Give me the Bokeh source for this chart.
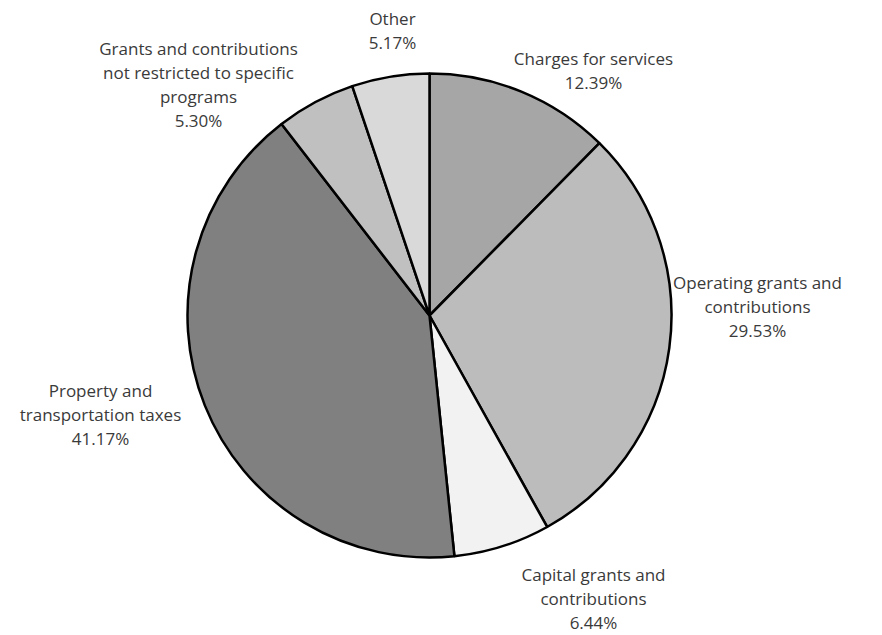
import math
from bokeh.plotting import figure
from bokeh.models import Range1d, ColumnDataSource
from bokeh.core.properties import value
from bokeh.embed import file_html
from bokeh.resources import INLINE

categories = [
    "Charges for services",
    "Operating grants and\ncontributions",
    "Capital grants and\ncontributions",
    "Property and\ntransportation taxes",
    "Grants and contributions\nnot restricted to specific\nprograms",
    "Other",
]
shares = [12.39, 29.53, 6.44, 41.17, 5.30, 5.17]
colors = ["#a6a6a6", "#bcbcbc", "#f2f2f2", "#808080", "#c0c0c0", "#d9d9d9"]

# label anchor centres (layout), in screen px from top-left
label_pos = [(593, 70), (757, 306), (593, 598), (100, 414), (198, 84), (392, 30)]

W, H = 882, 635
cx, cy, r = 429, H - 315, 242

p = figure(width=W, height=H, output_backend="svg", toolbar_location=None,
           x_range=Range1d(0, W), y_range=Range1d(0, H), min_border=0)
p.axis.visible = False
p.grid.visible = False
p.outline_line_color = None
p.background_fill_color = "white"

total = sum(shares)
starts, ends = [], []
cum = 0.0
for s in shares:
    starts.append(math.pi / 2 - cum / total * 2 * math.pi)
    cum += s
    ends.append(math.pi / 2 - cum / total * 2 * math.pi)

src = ColumnDataSource(dict(start=starts, end=ends, color=colors))
p.wedge(x=cx, y=cy, radius=r, start_angle="start", end_angle="end",
        direction="clock", fill_color="color", line_color="black",
        line_width=2.5, source=src)

texts = [f"{c}\n{s:.2f}%" for c, s in zip(categories, shares)]
lx = [pp[0] for pp in label_pos]
ly = [H - pp[1] for pp in label_pos]
tsrc = ColumnDataSource(dict(x=lx, y=ly, t=texts))
p.text(x="x", y="y", text="t", source=tsrc, text_align="center",
       text_baseline="middle", text_font=value("Open Sans"),
       text_font_size="17px", text_color="#3a3a3a", text_line_height=1.035)

open("out.html", "w").write(file_html(p, INLINE))
